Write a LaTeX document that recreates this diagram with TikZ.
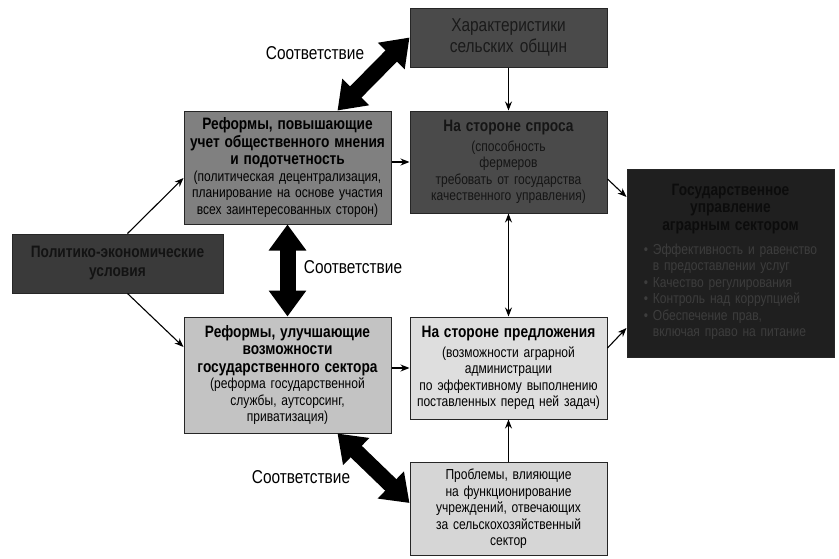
\documentclass[tikz,border=0pt]{standalone}
\usepackage{fontspec}
\setmainfont{Liberation Sans}[FakeStretch=0.83]
\usetikzlibrary{arrows.meta}

\definecolor{charfill}{HTML}{4A4A4A}
\definecolor{chartext}{HTML}{1A1A1A}
\definecolor{accfill}{HTML}{808080}
\definecolor{demfill}{HTML}{4A4A4A}
\definecolor{demtext}{HTML}{151515}
\definecolor{polfill}{HTML}{3A3A3A}
\definecolor{poltext}{HTML}{131313}
\definecolor{govfill}{HTML}{1F1F1F}
\definecolor{govtext}{HTML}{0C0C0C}
\definecolor{govlist}{HTML}{3D3D3D}
\definecolor{capfill}{HTML}{C3C3C3}
\definecolor{supfill}{HTML}{DEDEDE}
\definecolor{issfill}{HTML}{D6D6D6}

\newcommand\hdf{\fontsize{16.5}{17.5}\selectfont\bfseries}
\newcommand\lgf{\fontsize{18.6}{21}\selectfont}

\begin{document}
\begin{tikzpicture}[x=1pt,y=-1pt,
  font=\fontsize{14.5}{16.5}\selectfont,>={Stealth[length=9pt,width=7pt]},
  bx/.style={draw=black!85,line width=1pt,align=center,inner xsep=4pt,inner ysep=2pt},
  ar/.style={->,line width=1.1pt},
  fat/.style={line width=16pt,{Triangle[length=26pt,width=36pt]}-{Triangle[length=26pt,width=36pt]}},
  lb/.style={font=\lgf},
]
\useasboundingbox (0,0) rectangle (839,558);

% top row
\node[bx,fill=charfill,text=chartext,font=\lgf,minimum width=197pt,minimum height=59pt,
      text width=189pt] (char) at (508.5,37.5) {Характеристики\\сельских общин};
\node[bx,fill=accfill,text=black,minimum width=207pt,minimum height=113pt,text width=199pt]
  (acc) at (287.5,167.5)
  {{\hdf Реформы, повышающие\\учет общественного мнения\\и подотчетность\par}
   (политическая децентрализация,\\планирование на основе участия\\всех заинтересованных сторон)};
\node[bx,fill=demfill,text=demtext,minimum width=197pt,minimum height=102pt,text width=189pt]
  (dem) at (508.5,162)
  {{\hdf На стороне спроса\par}\vspace{3pt}
   (способность\\фермеров\\требовать от государства\\качественного управления)};

% left and right
\node[bx,fill=polfill,text=poltext,minimum width=211pt,minimum height=59pt,text width=203pt]
  (pol) at (117.5,263.5) {\hdf Политико-экономические\\[2.5pt]условия};
\node[bx,fill=govfill,text=govtext,minimum width=207pt,minimum height=188pt,text width=199pt]
  (gov) at (730.5,263)
  {{\hdf Государственное\\управление\\аграрным сектором\par}\vspace{8pt}
   {\color{govlist}\begin{tabular}{@{}l@{}}
    \textbullet~Эффективность и равенство\\
    \phantom{\textbullet~}в предоставлении услуг\\
    \textbullet~Качество регулирования\\
    \textbullet~Контроль над коррупцией\\
    \textbullet~Обеспечение прав,\\
    \phantom{\textbullet~}включая право на питание
   \end{tabular}}};

% bottom row
\node[bx,fill=capfill,text=black,minimum width=207pt,minimum height=116pt,text width=199pt]
  (cap) at (287.5,375)
  {{\hdf Реформы, улучшающие\\возможности\\государственного сектора\par}
   (реформа государственной\\службы, аутсорсинг,\\приватизация)};
\node[bx,fill=supfill,text=black,minimum width=197pt,minimum height=102pt,text width=189pt]
  (sup) at (508.5,368)
  {{\hdf На стороне предложения\par}\vspace{3pt}
   (возможности аграрной\\администрации\\по эффективному выполнению\\поставленных перед ней задач)};
\node[bx,fill=issfill,text=black,minimum width=197pt,minimum height=93pt,text width=189pt]
  (iss) at (508.5,509)
  {Проблемы, влияющие\\на функционирование\\учреждений, отвечающих\\за сельскохозяйственный\\сектор};

% thin arrows
\draw[ar] ([xshift=10pt]pol.north) -- ([yshift=-10.5pt]acc.west);
\draw[ar] ([xshift=10pt]pol.south) -- ([yshift=28pt]cap.west);
\draw[ar] (acc.east |- dem.west) -- (dem.west);
\draw[ar] (cap.east |- sup.west) -- (sup.west);
\draw[ar] (char.south) -- (dem.north);
\draw[<->,line width=1.1pt] (dem.south) -- (sup.north);
\draw[ar] (iss.north) -- (sup.south);
\draw[ar] ([yshift=-17pt]dem.east) -- ([yshift=66pt]gov.west);
\draw[ar] ([yshift=20pt]sup.east) -- ([yshift=-65pt]gov.west);

% fit arrows
\draw[fat] (char.west) -- ([xshift=50pt]acc.north);
\draw[fat] (acc.south) -- (cap.north);
\draw[fat] ([xshift=50pt]cap.south) -- ([yshift=6pt]iss.west);

\node[lb] (fit1) at (315,53) {Соответствие};
\node[lb] (fit2) at (353,267) {Соответствие};
\node[lb] (fit3) at (301,477) {Соответствие};
\end{tikzpicture}
\end{document}
